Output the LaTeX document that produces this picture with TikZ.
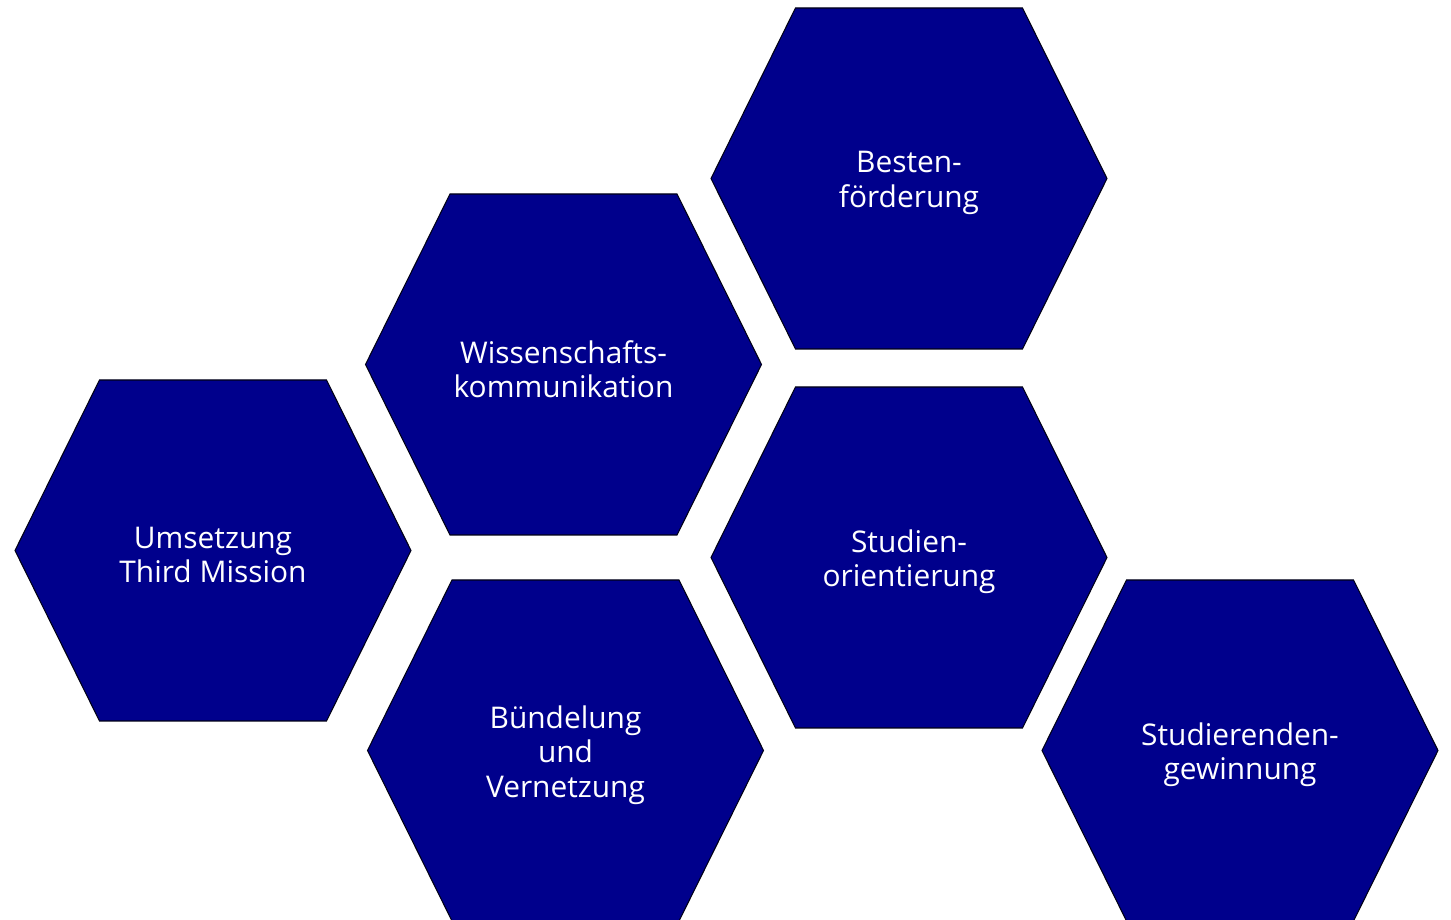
\documentclass[tikz,border=0pt]{standalone}
\usepackage{fontspec}
\setmainfont{Open Sans}
\definecolor{hexblue}{RGB}{0,0,140}

\begin{document}
\begin{tikzpicture}
    [
        cell/.style={fill=hexblue, draw=black!85!hexblue, line width=0.6pt,},
        hexagon/.pic={\draw [cell] (-3.96,0) -- (-2.27,3.41) -- (2.27,3.41)
            -- (3.96,0) -- (2.27,-3.41) -- (-2.27,-3.41) -- cycle;},
        label/.style={text=white, align=center, yshift=-0.09cm,
            font=\fontsize{17pt}{19.6pt}\selectfont,},
    ]
    \useasboundingbox (0,0) rectangle (29.02,18.4);

    % hexagon cells
    \pic at (18.18,14.83) {hexagon};
    \pic at (11.27,11.11) {hexagon};
    \pic at (4.26,7.39)   {hexagon};
    \pic at (18.18,7.25)  {hexagon};
    \pic at (11.31,3.39)  {hexagon};
    \pic at (24.80,3.39)  {hexagon};

    % cell texts
    \node (besten)  at (18.18,14.83) [label] {Besten-\\förderung};
    \node (wissen)  at (11.27,11.11) [label] {Wissenschafts-\\kommunikation};
    \node (third)   at (4.26,7.39)   [label] {Umsetzung\\Third Mission};
    \node (studien) at (18.18,7.25)  [label] {Studien-\\orientierung};
    \node (buendel) at (11.31,3.39)  [label] {Bündelung\\und\\Vernetzung};
    \node (gewinn)  at (24.80,3.39)  [label] {Studierenden-\\gewinnung};
\end{tikzpicture}
\end{document}
